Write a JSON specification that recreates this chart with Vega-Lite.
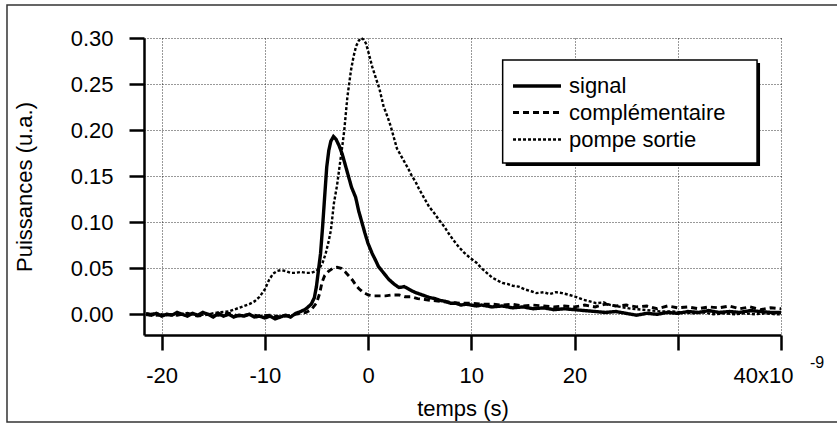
{
"$schema": "https://vega.github.io/schema/vega-lite/v6.json",
"width": 637, "height": 297,
"autosize": {"type": "none"},
"padding": {"left": 144, "top": 38, "right": 56, "bottom": 90},
"background": "white",
"config": {
 "view": {"stroke": null},
 "font": "Liberation Sans",
 "axis": {"grid": true, "labelFont": "Liberation Sans", "titleFont": "Liberation Sans", "labelFontSize": 22, "titleFontSize": 22, "titleFontWeight": "normal", "labelColor": "black", "titleColor": "black", "domainColor": "black", "tickColor": "black", "gridColor": "black", "gridDash": [1, 2], "gridWidth": 1, "gridOpacity": 0.8, "tickSize": 15, "tickWidth": 2.5, "domainWidth": 2.5},
 "legend": {"orient": "none", "legendX": 359, "legendY": 25, "strokeColor": null, "fillColor": null, "padding": 10, "labelFont": "Liberation Sans", "labelFontSize": 22, "labelColor": "black", "labelLimit": 300, "symbolType": "M-2.18,0H2.18", "symbolSize": 484, "symbolOffset": 11, "symbolStrokeColor": "black", "labelOffset": 19, "rowPadding": 3}
},
"datasets": {
 "d": [
{"s":"signal","t":-21.5,"v":0.000},{"s":"signal","t":-21,"v":-0.001},{"s":"signal","t":-20.5,"v":0.001},{"s":"signal","t":-20,"v":-0.002},{"s":"signal","t":-19.5,"v":0.000},{"s":"signal","t":-19,"v":-0.001},{"s":"signal","t":-18.5,"v":0.002},{"s":"signal","t":-18,"v":0.000},{"s":"signal","t":-17.5,"v":-0.002},{"s":"signal","t":-17,"v":0.001},{"s":"signal","t":-16.5,"v":-0.001},{"s":"signal","t":-16,"v":0.002},{"s":"signal","t":-15.5,"v":0.000},{"s":"signal","t":-15,"v":-0.003},{"s":"signal","t":-14.5,"v":0.001},{"s":"signal","t":-14,"v":-0.002},{"s":"signal","t":-13.5,"v":0.000},{"s":"signal","t":-13,"v":-0.003},{"s":"signal","t":-12.5,"v":-0.001},{"s":"signal","t":-12,"v":-0.002},{"s":"signal","t":-11.5,"v":0.000},{"s":"signal","t":-11,"v":-0.003},{"s":"signal","t":-10.5,"v":-0.002},{"s":"signal","t":-10,"v":-0.004},{"s":"signal","t":-9.5,"v":-0.002},{"s":"signal","t":-9,"v":-0.005},{"s":"signal","t":-8.5,"v":-0.003},{"s":"signal","t":-8,"v":-0.001},{"s":"signal","t":-7.5,"v":-0.003},{"s":"signal","t":-7,"v":0.001},{"s":"signal","t":-6.5,"v":0.003},{"s":"signal","t":-6,"v":0.006},{"s":"signal","t":-5.5,"v":0.011},{"s":"signal","t":-5.2,"v":0.018},{"s":"signal","t":-5,"v":0.030},{"s":"signal","t":-4.8,"v":0.048},{"s":"signal","t":-4.6,"v":0.066},{"s":"signal","t":-4.4,"v":0.095},{"s":"signal","t":-4.2,"v":0.128},{"s":"signal","t":-4,"v":0.160},{"s":"signal","t":-3.8,"v":0.178},{"s":"signal","t":-3.6,"v":0.188},{"s":"signal","t":-3.35,"v":0.193},{"s":"signal","t":-3.1,"v":0.190},{"s":"signal","t":-2.8,"v":0.183},{"s":"signal","t":-2.5,"v":0.174},{"s":"signal","t":-2.2,"v":0.162},{"s":"signal","t":-1.9,"v":0.150},{"s":"signal","t":-1.6,"v":0.138},{"s":"signal","t":-1.2,"v":0.127},{"s":"signal","t":-0.9,"v":0.112},{"s":"signal","t":-0.6,"v":0.100},{"s":"signal","t":-0.3,"v":0.088},{"s":"signal","t":0,"v":0.077},{"s":"signal","t":0.4,"v":0.066},{"s":"signal","t":0.8,"v":0.057},{"s":"signal","t":1,"v":0.052},{"s":"signal","t":1.5,"v":0.045},{"s":"signal","t":2,"v":0.038},{"s":"signal","t":2.5,"v":0.033},{"s":"signal","t":3,"v":0.029},{"s":"signal","t":3.5,"v":0.030},{"s":"signal","t":4,"v":0.027},{"s":"signal","t":4.5,"v":0.024},{"s":"signal","t":5,"v":0.022},{"s":"signal","t":5.5,"v":0.020},{"s":"signal","t":6,"v":0.018},{"s":"signal","t":6.5,"v":0.017},{"s":"signal","t":7,"v":0.015},{"s":"signal","t":7.5,"v":0.014},{"s":"signal","t":8,"v":0.012},{"s":"signal","t":8.5,"v":0.012},{"s":"signal","t":9,"v":0.010},{"s":"signal","t":9.5,"v":0.011},{"s":"signal","t":10,"v":0.010},{"s":"signal","t":10.5,"v":0.009},{"s":"signal","t":11,"v":0.010},{"s":"signal","t":12,"v":0.008},{"s":"signal","t":13,"v":0.009},{"s":"signal","t":14,"v":0.007},{"s":"signal","t":15,"v":0.008},{"s":"signal","t":16,"v":0.006},{"s":"signal","t":17,"v":0.007},{"s":"signal","t":18,"v":0.005},{"s":"signal","t":19,"v":0.006},{"s":"signal","t":20,"v":0.005},{"s":"signal","t":21,"v":0.004},{"s":"signal","t":22,"v":0.003},{"s":"signal","t":23,"v":0.002},{"s":"signal","t":24,"v":0.003},{"s":"signal","t":25,"v":0.001},{"s":"signal","t":26,"v":-0.001},{"s":"signal","t":27,"v":0.001},{"s":"signal","t":28,"v":0.000},{"s":"signal","t":29,"v":0.002},{"s":"signal","t":30,"v":0.001},{"s":"signal","t":31,"v":0.003},{"s":"signal","t":32,"v":0.002},{"s":"signal","t":33,"v":0.004},{"s":"signal","t":34,"v":0.002},{"s":"signal","t":35,"v":0.003},{"s":"signal","t":36,"v":0.002},{"s":"signal","t":37,"v":0.004},{"s":"signal","t":38,"v":0.003},{"s":"signal","t":39,"v":0.002},{"s":"signal","t":40,"v":0.002},
{"s":"complémentaire","t":-21.5,"v":0.001},{"s":"complémentaire","t":-20.5,"v":-0.001},{"s":"complémentaire","t":-19.5,"v":0.000},{"s":"complémentaire","t":-18.5,"v":-0.001},{"s":"complémentaire","t":-17.5,"v":0.001},{"s":"complémentaire","t":-16.5,"v":-0.002},{"s":"complémentaire","t":-15.5,"v":0.000},{"s":"complémentaire","t":-14.5,"v":-0.001},{"s":"complémentaire","t":-13.5,"v":0.001},{"s":"complémentaire","t":-12.5,"v":-0.002},{"s":"complémentaire","t":-11.5,"v":0.000},{"s":"complémentaire","t":-10.5,"v":-0.002},{"s":"complémentaire","t":-9.5,"v":-0.001},{"s":"complémentaire","t":-8.5,"v":-0.003},{"s":"complémentaire","t":-7.5,"v":-0.001},{"s":"complémentaire","t":-6.5,"v":0.001},{"s":"complémentaire","t":-6,"v":0.002},{"s":"complémentaire","t":-5.5,"v":0.005},{"s":"complémentaire","t":-5,"v":0.012},{"s":"complémentaire","t":-4.7,"v":0.022},{"s":"complémentaire","t":-4.45,"v":0.035},{"s":"complémentaire","t":-4.2,"v":0.042},{"s":"complémentaire","t":-3.8,"v":0.047},{"s":"complémentaire","t":-3.4,"v":0.050},{"s":"complémentaire","t":-3,"v":0.051},{"s":"complémentaire","t":-2.6,"v":0.050},{"s":"complémentaire","t":-2.2,"v":0.046},{"s":"complémentaire","t":-1.8,"v":0.041},{"s":"complémentaire","t":-1.5,"v":0.037},{"s":"complémentaire","t":-1.2,"v":0.032},{"s":"complémentaire","t":-0.9,"v":0.028},{"s":"complémentaire","t":-0.5,"v":0.024},{"s":"complémentaire","t":0,"v":0.021},{"s":"complémentaire","t":0.5,"v":0.020},{"s":"complémentaire","t":1,"v":0.020},{"s":"complémentaire","t":1.7,"v":0.020},{"s":"complémentaire","t":2.3,"v":0.021},{"s":"complémentaire","t":3,"v":0.021},{"s":"complémentaire","t":3.6,"v":0.019},{"s":"complémentaire","t":4.2,"v":0.019},{"s":"complémentaire","t":4.8,"v":0.017},{"s":"complémentaire","t":5.5,"v":0.016},{"s":"complémentaire","t":6.2,"v":0.015},{"s":"complémentaire","t":7,"v":0.014},{"s":"complémentaire","t":8,"v":0.013},{"s":"complémentaire","t":9,"v":0.012},{"s":"complémentaire","t":10,"v":0.012},{"s":"complémentaire","t":11,"v":0.011},{"s":"complémentaire","t":12,"v":0.011},{"s":"complémentaire","t":13,"v":0.010},{"s":"complémentaire","t":14,"v":0.011},{"s":"complémentaire","t":15,"v":0.009},{"s":"complémentaire","t":16,"v":0.010},{"s":"complémentaire","t":17,"v":0.009},{"s":"complémentaire","t":18,"v":0.008},{"s":"complémentaire","t":19,"v":0.009},{"s":"complémentaire","t":20,"v":0.008},{"s":"complémentaire","t":21,"v":0.010},{"s":"complémentaire","t":22,"v":0.008},{"s":"complémentaire","t":23,"v":0.011},{"s":"complémentaire","t":24,"v":0.009},{"s":"complémentaire","t":25,"v":0.010},{"s":"complémentaire","t":26,"v":0.008},{"s":"complémentaire","t":27,"v":0.009},{"s":"complémentaire","t":28,"v":0.006},{"s":"complémentaire","t":29,"v":0.009},{"s":"complémentaire","t":30,"v":0.007},{"s":"complémentaire","t":31,"v":0.008},{"s":"complémentaire","t":32,"v":0.006},{"s":"complémentaire","t":33,"v":0.008},{"s":"complémentaire","t":34,"v":0.007},{"s":"complémentaire","t":35,"v":0.009},{"s":"complémentaire","t":36,"v":0.006},{"s":"complémentaire","t":37,"v":0.008},{"s":"complémentaire","t":38,"v":0.005},{"s":"complémentaire","t":39,"v":0.007},{"s":"complémentaire","t":40,"v":0.006},
{"s":"pompe sortie","t":-21.5,"v":0.000},{"s":"pompe sortie","t":-20.5,"v":0.001},{"s":"pompe sortie","t":-19.5,"v":-0.001},{"s":"pompe sortie","t":-18.5,"v":0.000},{"s":"pompe sortie","t":-17.5,"v":0.001},{"s":"pompe sortie","t":-16.5,"v":-0.001},{"s":"pompe sortie","t":-15.5,"v":0.000},{"s":"pompe sortie","t":-14.5,"v":0.002},{"s":"pompe sortie","t":-13.5,"v":0.003},{"s":"pompe sortie","t":-13,"v":0.005},{"s":"pompe sortie","t":-12.5,"v":0.007},{"s":"pompe sortie","t":-12,"v":0.009},{"s":"pompe sortie","t":-11.5,"v":0.011},{"s":"pompe sortie","t":-11,"v":0.014},{"s":"pompe sortie","t":-10.5,"v":0.019},{"s":"pompe sortie","t":-10,"v":0.027},{"s":"pompe sortie","t":-9.6,"v":0.037},{"s":"pompe sortie","t":-9.2,"v":0.044},{"s":"pompe sortie","t":-8.8,"v":0.047},{"s":"pompe sortie","t":-8.4,"v":0.048},{"s":"pompe sortie","t":-8,"v":0.047},{"s":"pompe sortie","t":-7.5,"v":0.045},{"s":"pompe sortie","t":-7,"v":0.045},{"s":"pompe sortie","t":-6.5,"v":0.046},{"s":"pompe sortie","t":-6,"v":0.045},{"s":"pompe sortie","t":-5.5,"v":0.045},{"s":"pompe sortie","t":-5,"v":0.047},{"s":"pompe sortie","t":-4.7,"v":0.050},{"s":"pompe sortie","t":-4.4,"v":0.056},{"s":"pompe sortie","t":-4.1,"v":0.066},{"s":"pompe sortie","t":-3.8,"v":0.080},{"s":"pompe sortie","t":-3.6,"v":0.091},{"s":"pompe sortie","t":-3.3,"v":0.121},{"s":"pompe sortie","t":-3,"v":0.140},{"s":"pompe sortie","t":-2.8,"v":0.157},{"s":"pompe sortie","t":-2.5,"v":0.182},{"s":"pompe sortie","t":-2.3,"v":0.200},{"s":"pompe sortie","t":-2,"v":0.236},{"s":"pompe sortie","t":-1.65,"v":0.265},{"s":"pompe sortie","t":-1.4,"v":0.280},{"s":"pompe sortie","t":-1.16,"v":0.291},{"s":"pompe sortie","t":-0.9,"v":0.297},{"s":"pompe sortie","t":-0.68,"v":0.300},{"s":"pompe sortie","t":-0.4,"v":0.298},{"s":"pompe sortie","t":-0.2,"v":0.294},{"s":"pompe sortie","t":0.1,"v":0.282},{"s":"pompe sortie","t":0.4,"v":0.269},{"s":"pompe sortie","t":0.8,"v":0.255},{"s":"pompe sortie","t":1.1,"v":0.245},{"s":"pompe sortie","t":1.5,"v":0.226},{"s":"pompe sortie","t":1.9,"v":0.214},{"s":"pompe sortie","t":2.2,"v":0.204},{"s":"pompe sortie","t":2.5,"v":0.192},{"s":"pompe sortie","t":2.8,"v":0.180},{"s":"pompe sortie","t":3.2,"v":0.172},{"s":"pompe sortie","t":3.5,"v":0.166},{"s":"pompe sortie","t":3.9,"v":0.158},{"s":"pompe sortie","t":4.2,"v":0.151},{"s":"pompe sortie","t":4.6,"v":0.144},{"s":"pompe sortie","t":4.9,"v":0.137},{"s":"pompe sortie","t":5.4,"v":0.127},{"s":"pompe sortie","t":5.9,"v":0.117},{"s":"pompe sortie","t":6.4,"v":0.110},{"s":"pompe sortie","t":6.9,"v":0.102},{"s":"pompe sortie","t":7.4,"v":0.095},{"s":"pompe sortie","t":7.8,"v":0.088},{"s":"pompe sortie","t":8.3,"v":0.080},{"s":"pompe sortie","t":8.8,"v":0.073},{"s":"pompe sortie","t":9.3,"v":0.067},{"s":"pompe sortie","t":9.8,"v":0.062},{"s":"pompe sortie","t":10.5,"v":0.056},{"s":"pompe sortie","t":11,"v":0.050},{"s":"pompe sortie","t":11.5,"v":0.045},{"s":"pompe sortie","t":12,"v":0.040},{"s":"pompe sortie","t":12.5,"v":0.037},{"s":"pompe sortie","t":13,"v":0.034},{"s":"pompe sortie","t":13.5,"v":0.033},{"s":"pompe sortie","t":14,"v":0.031},{"s":"pompe sortie","t":14.6,"v":0.030},{"s":"pompe sortie","t":15.2,"v":0.027},{"s":"pompe sortie","t":15.8,"v":0.025},{"s":"pompe sortie","t":16.3,"v":0.023},{"s":"pompe sortie","t":17,"v":0.024},{"s":"pompe sortie","t":17.6,"v":0.022},{"s":"pompe sortie","t":18.2,"v":0.024},{"s":"pompe sortie","t":18.8,"v":0.023},{"s":"pompe sortie","t":19.5,"v":0.021},{"s":"pompe sortie","t":20.1,"v":0.019},{"s":"pompe sortie","t":20.8,"v":0.016},{"s":"pompe sortie","t":21.5,"v":0.014},{"s":"pompe sortie","t":22.1,"v":0.012},{"s":"pompe sortie","t":22.8,"v":0.013},{"s":"pompe sortie","t":23.5,"v":0.010},{"s":"pompe sortie","t":24.5,"v":0.008},{"s":"pompe sortie","t":25.5,"v":0.006},{"s":"pompe sortie","t":26.5,"v":0.005},{"s":"pompe sortie","t":27.5,"v":0.004},{"s":"pompe sortie","t":28.5,"v":0.003},{"s":"pompe sortie","t":29.5,"v":0.003},{"s":"pompe sortie","t":30.5,"v":0.002},{"s":"pompe sortie","t":31.5,"v":0.001},{"s":"pompe sortie","t":32.5,"v":0.002},{"s":"pompe sortie","t":33.5,"v":0.000},{"s":"pompe sortie","t":34.5,"v":0.001},{"s":"pompe sortie","t":35.5,"v":0.000},{"s":"pompe sortie","t":36.5,"v":0.001},{"s":"pompe sortie","t":37.5,"v":0.000},{"s":"pompe sortie","t":38.5,"v":0.001},{"s":"pompe sortie","t":39.5,"v":0.000},{"s":"pompe sortie","t":40,"v":0.000}
 ]
},
"layer": [
 {
  "data": {"values": [{}]},
  "mark": {"type": "rect", "fill": null, "stroke": "#333333", "strokeWidth": 1.5, "clip": false},
  "encoding": {
   "x": {"datum": -34.97, "type": "quantitative"},
   "x2": {"datum": 46},
   "y": {"datum": 0.3358, "type": "quantitative"},
   "y2": {"datum": -0.117}
  }
 },
 {
  "data": {"name": "d"},
  "mark": {"type": "line", "color": "black", "strokeCap": "butt", "interpolate": "linear"},
  "encoding": {
   "x": {"field": "t", "type": "quantitative",
    "scale": {"domain": [-21.7, 40], "nice": false, "zero": false},
    "axis": {"grid": true, "values": [-20, -10, 0, 10, 20, 30, 40], "labelExpr": "datum.value == 40 ? '40x10' : datum.value == 30 ? '' : (datum.value < 0 ? '-' + abs(datum.value) : '' + datum.value)", "labelOffset": {"condition": {"test": "datum.value == 40", "value": -18}, "value": 0}, "labelFlush": false, "labelOverlap": false, "labelPadding": 15, "title": "temps (s)", "titlePadding": 12}},
   "y": {"field": "v", "type": "quantitative",
    "scale": {"domain": [-0.0225, 0.3], "nice": false, "zero": false},
    "axis": {"grid": true, "values": [0, 0.05, 0.1, 0.15, 0.2, 0.25, 0.3], "format": ".2f", "labelPadding": 16, "title": "Puissances (u.a.)", "titlePadding": 34}},
   "strokeDash": {"field": "s", "type": "nominal",
    "scale": {"domain": ["signal", "complémentaire", "pompe sortie"], "range": [[1, 0], [6, 4], [3, 2]]},
    "legend": {"title": null}},
   "strokeWidth": {"field": "s", "type": "nominal",
    "scale": {"domain": ["signal", "complémentaire", "pompe sortie"], "range": [3.4, 2.4, 3]},
    "legend": {"title": null}}
  }
 },
 {
  "data": {"values": [{}]},
  "mark": {"type": "rect", "fill": "black", "stroke": null},
  "encoding": {
   "x": {"datum": 13.33, "type": "quantitative"},
   "x2": {"datum": 37.97},
   "y": {"datum": 0.2728, "type": "quantitative"},
   "y2": {"datum": 0.1610}
  }
 },
 {
  "data": {"values": [{}]},
  "mark": {"type": "rect", "fill": "white", "stroke": "black", "strokeWidth": 1.5},
  "encoding": {
   "x": {"datum": 13.04, "type": "quantitative"},
   "x2": {"datum": 37.68},
   "y": {"datum": 0.2761, "type": "quantitative"},
   "y2": {"datum": 0.1643}
  }
 },
 {
  "data": {"values": [{}]},
  "mark": {"type": "text", "text": "-9", "fontSize": 16, "font": "Liberation Sans", "color": "black", "align": "center", "baseline": "middle", "dx": 36, "dy": 28},
  "encoding": {
   "x": {"datum": 40, "type": "quantitative"},
   "y": {"datum": -0.0225, "type": "quantitative"}
  }
 }
]
}
